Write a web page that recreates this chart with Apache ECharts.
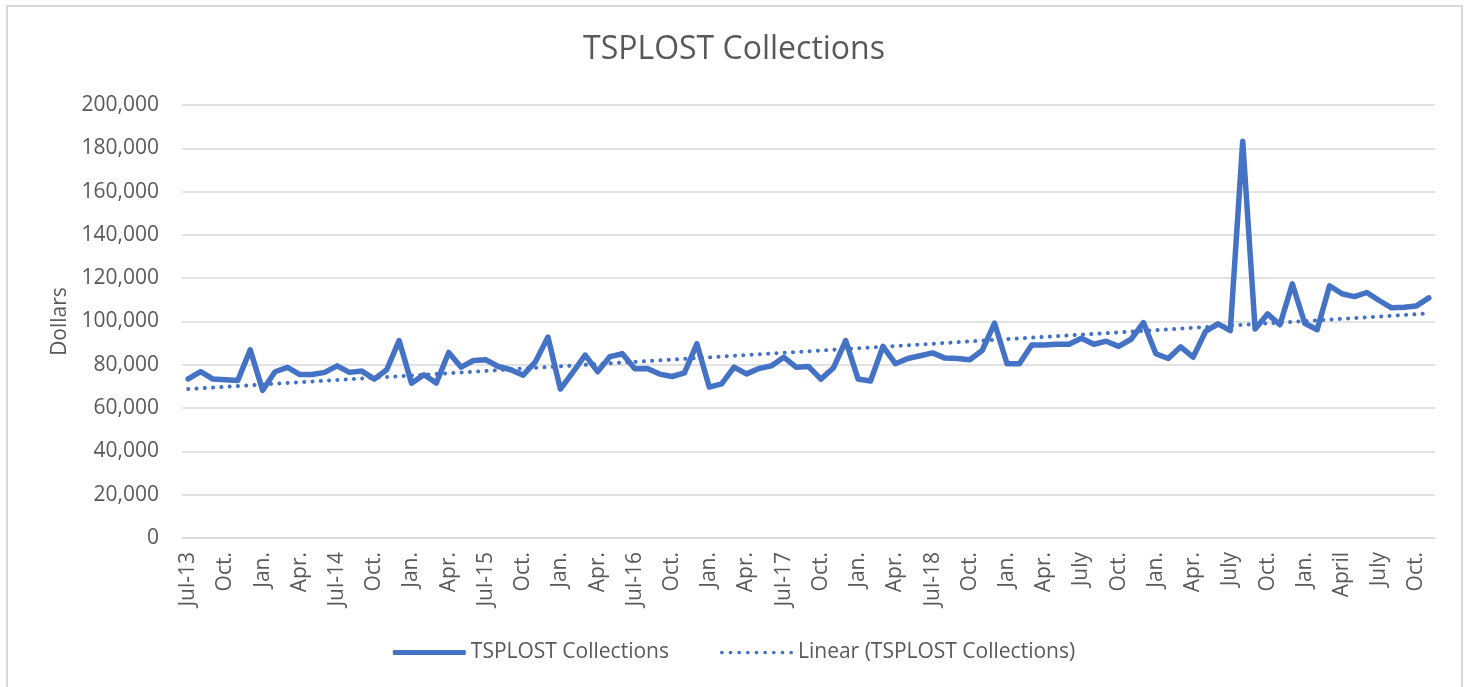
<!DOCTYPE html>
<html>
<head>
<meta charset="utf-8">
<script src="https://cdn.jsdelivr.net/npm/echarts@6/dist/echarts.min.js"></script>
<style>
  html, body { margin: 0; padding: 0; background: #fff; }
  #chart { position: absolute; left: 0; top: 0; width: 1468px; height: 687px; }
  #frame { position: absolute; left: 6px; top: 5px; width: 1453px; height: 700px; border: 2px solid #d9d9d9; pointer-events: none; }
</style>
</head>
<body>
<div id="chart"></div>
<div id="frame"></div>
<script>
// Tick labels shown every third month, starting Jul 2013
const tickLabels = [
  "Jul-13", "Oct.", "Jan.", "Apr.",
  "Jul-14", "Oct.", "Jan.", "Apr.",
  "Jul-15", "Oct.", "Jan.", "Apr.",
  "Jul-16", "Oct.", "Jan.", "Apr.",
  "Jul-17", "Oct.", "Jan.", "Apr.",
  "Jul-18", "Oct.", "Jan.", "Apr.",
  "July", "Oct.", "Jan.", "Apr.",
  "July", "Oct.", "Jan.", "April",
  "July", "Oct."
];

// Monthly collections, Jul 2013 .. Nov 2021 (dollars)
const collections = [
  73500, 76800, 73400, 73100, 72800, 86900, 68200, 76800, 78800, 75500,
  75500, 76500, 79500, 76500, 77100, 73400, 77700, 91200, 71500, 75400,
  71600, 85700, 78900, 82000, 82300, 79200, 77700, 75200, 81500, 92800,
  68800, 76500, 84500, 76800, 83800, 85100, 78200, 78300, 75700, 74600,
  76300, 89700, 69700, 71200, 78900, 75800, 78300, 79500, 83500, 78900,
  79200, 73400, 78500, 91200, 73400, 72500, 88500, 80500, 82900, 84200,
  85500, 83100, 82900, 82300, 86600, 99200, 80500, 80500, 89200, 89100,
  89500, 89500, 92300, 89500, 90900, 88500, 91800, 99500, 85100, 82900,
  88300, 83500, 95400, 98900, 95800, 183300, 96500, 103500, 98500, 117400,
  99200, 96200, 116500, 112800, 111500, 113400, 109700, 106300, 106600, 107200,
  110900
];

// Linear trendline values read at the first and last month
const trendEnds = [68800, 103700];

const monthNames = ["Jan","Feb","Mar","Apr","May","Jun","Jul","Aug","Sep","Oct","Nov","Dec"];
const categories = collections.map((_, i) => {
  const m = (6 + i) % 12;
  const y = 2013 + Math.floor((6 + i) / 12);
  return monthNames[m] + " " + y;
});

const trendData = collections.map((_, i) =>
  i === 0 ? trendEnds[0] : (i === collections.length - 1 ? trendEnds[1] : null));

// legend icon: row of small dots
let dotPath = 'path://';
for (let k = 0; k < 9; k++) {
  const cx = 1.75 + k * 8.2;
  dotPath += 'M' + (cx - 1.75) + ',1.75 a1.75,1.75 0 1,0 3.5,0 a1.75,1.75 0 1,0 -3.5,0 Z ';
}

const FONT = "Open Sans";
const TXT = "#595959";
const BLUE = "#4472C4";

const chart = echarts.init(document.getElementById('chart'), null, { renderer: 'canvas' });
chart.setOption({
  animation: false,
  backgroundColor: '#ffffff',
  title: {
    text: 'TSPLOST Collections',
    left: 'center',
    top: 29,
    textStyle: { fontFamily: FONT, fontSize: 32, fontWeight: 'normal', color: TXT }
  },
  legend: {
    bottom: 19,
    left: 'center',
    itemWidth: 73,
    itemHeight: 5,
    itemGap: 51,
    textStyle: { fontFamily: FONT, fontSize: 21, color: TXT },
    data: [
      { name: 'TSPLOST Collections', icon: 'roundRect', itemStyle: { color: BLUE } },
      { name: 'Linear (TSPLOST Collections)', icon: dotPath, itemStyle: { color: BLUE } }
    ]
  },
  grid: { left: 182, right: 33, top: 105, bottom: 149, containLabel: false },
  xAxis: {
    type: 'category',
    data: categories,
    boundaryGap: true,
    axisLine: { show: true, lineStyle: { color: '#d9d9d9', width: 1.5 } },
    axisTick: { show: false },
    axisLabel: {
      interval: 2,
      rotate: 90,
      margin: 14,
      fontFamily: FONT,
      fontSize: 21,
      color: TXT,
      formatter: (v, idx) => tickLabels[Math.floor(idx / 3)]
    }
  },
  yAxis: {
    type: 'value',
    min: 0,
    max: 200000,
    interval: 20000,
    name: 'Dollars',
    nameLocation: 'middle',
    nameGap: 110,
    nameTextStyle: { fontFamily: FONT, fontSize: 21, color: TXT },
    axisLine: { show: false },
    axisTick: { show: false },
    splitLine: { lineStyle: { color: '#d9d9d9', width: 1.5 } },
    axisLabel: {
      margin: 23,
      fontFamily: FONT,
      fontSize: 21,
      color: TXT,
      formatter: v => v.toLocaleString('en-US')
    }
  },
  series: [
    {
      name: 'TSPLOST Collections',
      type: 'line',
      data: collections,
      symbol: 'none',
      lineStyle: { color: BLUE, width: 5.5, join: 'round', cap: 'round' },
      itemStyle: { color: BLUE },
      z: 3
    },
    {
      name: 'Linear (TSPLOST Collections)',
      type: 'line',
      data: trendData,
      connectNulls: true,
      symbol: 'none',
      lineStyle: { color: BLUE, width: 4, type: [0.1, 8.2], cap: 'round' },
      itemStyle: { color: BLUE },
      z: 2
    }
  ]
});
</script>
</body>
</html>
